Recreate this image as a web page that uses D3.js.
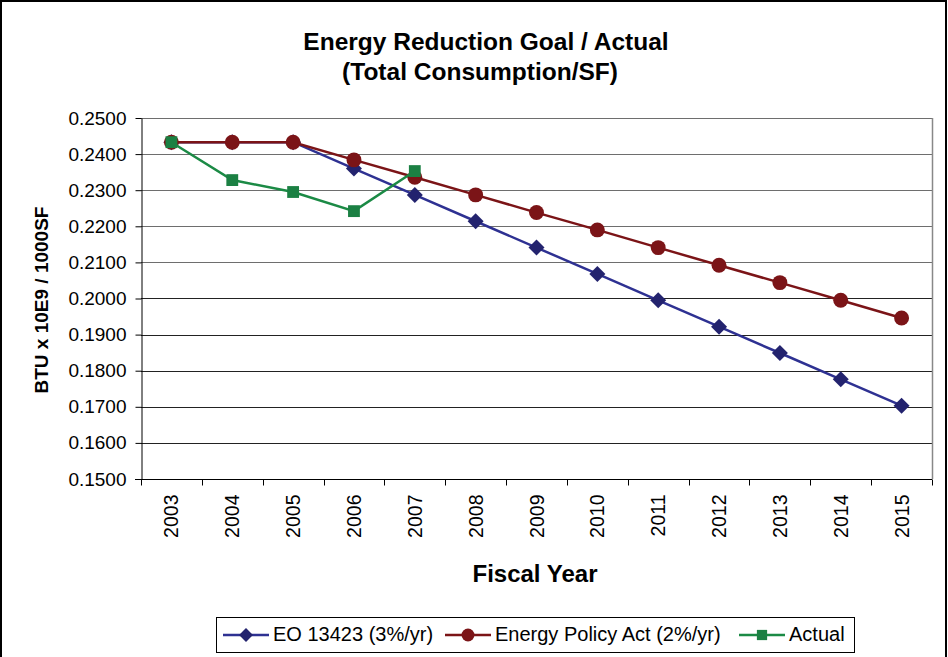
<!DOCTYPE html>
<html>
<head>
<meta charset="utf-8">
<script src="https://cdn.jsdelivr.net/npm/d3@7/dist/d3.min.js"></script>
<style>
  body { margin: 0; background: white; }
  svg { display: block; font-family: "Liberation Sans", Arial, sans-serif; }
</style>
</head>
<body>
<svg id="chart" width="948" height="657"></svg>
<script>
var years = ['2003','2004','2005','2006','2007','2008','2009','2010','2011','2012','2013','2014','2015']
var eoValues = [0.2433,0.2433,0.2433,0.2360,0.2287,0.2214,0.2141,0.2068,0.1995,0.1922,0.1849,0.1776,0.1703]
var epaValues = [0.2433,0.2433,0.2433,0.2384,0.2336,0.2287,0.2238,0.2190,0.2141,0.2092,0.2044,0.1995,0.1946]
var actualYears = ['2003','2004','2005','2006','2007']
var actualValues = [0.2433,0.2328,0.2295,0.2242,0.2353]
var yTicks = [0.15,0.16,0.17,0.18,0.19,0.20,0.21,0.22,0.23,0.24,0.25]
var seriesNames = ['EO 13423 (3%/yr)', 'Energy Policy Act (2%/yr)', 'Actual']

var svg = d3.select('#chart')
var plotL = 141, plotR = 932, plotT = 118, plotB = 479

// outer frame
svg.append('rect').attr('x', 1).attr('y', 1).attr('width', 945).attr('height', 680)
  .style('fill', 'white').style('stroke', 'black').style('stroke-width', 2)

var x = d3.scaleBand().domain(years).range([plotL, plotR])
var y = d3.scaleLinear().domain([0.15, 0.25]).range([plotB, plotT])

// gridlines
svg.append('g').selectAll('line').data(yTicks.slice(1)).enter().append('line')
  .attr('x1', plotL).attr('x2', plotR)
  .attr('y1', function(d){ return Math.round(y(d)) + 0.5 })
  .attr('y2', function(d){ return Math.round(y(d)) + 0.5 })
  .style('stroke', function(d){ return d > 0.205 ? '#6e6e6e' : '#222' })
  .style('stroke-width', 1)

// plot border right
svg.append('line').attr('x1', plotR + 0.5).attr('x2', plotR + 0.5).attr('y1', plotT).attr('y2', plotB)
  .style('stroke', '#888').style('stroke-width', 1.5)

// y axis
var yAxis = svg.append('g').attr('transform', 'translate(' + (plotL + 0.5) + ',0)')
  .call(d3.axisLeft(y).tickValues(yTicks).tickFormat(d3.format('.4f')).tickSize(6).tickSizeOuter(0))
yAxis.attr('font-family', null).attr('font-size', null)
yAxis.select('.domain').style('stroke', 'black')
yAxis.selectAll('line').style('stroke', 'black')
yAxis.selectAll('text').style('font-size', '19px').style('fill', 'black').attr('x', -15)

// x axis, ticks between categories
var xAxis = svg.append('g').attr('transform', 'translate(0,' + (plotB + 0.5) + ')')
xAxis.append('line').attr('x1', plotL - 6).attr('x2', plotR).style('stroke', 'black')
var edges = years.map(function(d){ return x(d) }).concat([plotR])
xAxis.selectAll('.tk').data(edges).enter().append('line')
  .attr('x1', function(d){ return Math.round(d) + 0.5 }).attr('x2', function(d){ return Math.round(d) + 0.5 })
  .attr('y1', 0).attr('y2', 6).style('stroke', 'black')
xAxis.selectAll('.lbl').data(years).enter().append('text')
  .attr('transform', function(d){ return 'translate(' + (x(d) + x.bandwidth() / 2 + 7) + ',15) rotate(-90)' })
  .style('text-anchor', 'end').style('font-size', '19.5px')
  .text(function(d){ return d })

// title
svg.append('text').attr('x', 486).attr('y', 50).style('text-anchor', 'middle')
  .style('font-size', '24.5px').style('font-weight', 'bold').text('Energy Reduction Goal / Actual')
svg.append('text').attr('x', 480).attr('y', 80).style('text-anchor', 'middle')
  .style('font-size', '24.5px').style('font-weight', 'bold').text('(Total Consumption/SF)')

// axis titles
svg.append('text').attr('transform', 'translate(48,300) rotate(-90)').style('text-anchor', 'middle')
  .style('font-size', '19px').style('font-weight', 'bold').text('BTU x 10E9 / 1000SF')
svg.append('text').attr('x', 535).attr('y', 582).style('text-anchor', 'middle')
  .style('font-size', '24px').style('font-weight', 'bold').text('Fiscal Year')

var cx = function(d){ return x(d) + x.bandwidth() / 2 }
var line = d3.line().x(function(d){ return cx(d[0]) }).y(function(d){ return y(d[1]) })

// diamonds are squares turned 45 degrees
var series = [
  { name: seriesNames[0], data: d3.zip(years, eoValues), line: '#2E3192', fill: '#23236E', shape: d3.symbolSquare, size: 128, rot: 45 },
  { name: seriesNames[1], data: d3.zip(years, epaValues), line: '#7B1417', fill: '#7B1417', shape: d3.symbolCircle, size: 175, rot: 0 },
  { name: seriesNames[2], data: d3.zip(actualYears, actualValues), line: '#1B8A45', fill: '#1B8043', shape: d3.symbolSquare, size: 140, rot: 0 }
]

series.forEach(function(s) {
  svg.append('path').datum(s.data).attr('d', line)
    .style('fill', 'none').style('stroke', s.line).style('stroke-width', 2.5)
  svg.append('g').selectAll('path').data(s.data).enter().append('path')
    .attr('d', d3.symbol().type(s.shape).size(s.size))
    .attr('transform', function(d){ return 'translate(' + cx(d[0]) + ',' + y(d[1]) + ') rotate(' + s.rot + ')' })
    .style('fill', s.fill)
})

// legend
var lg = svg.append('g')
lg.append('rect').attr('x', 216.5).attr('y', 617.5).attr('width', 638).attr('height', 35)
  .style('fill', 'white').style('stroke', 'black').style('stroke-width', 1)
var lx = [223, 445, 739]
series.forEach(function(s, i) {
  lg.append('line').attr('x1', lx[i]).attr('x2', lx[i] + 46).attr('y1', 635).attr('y2', 635)
    .style('stroke', s.line).style('stroke-width', 2.5)
  lg.append('path').attr('d', d3.symbol().type(s.shape).size(s.size * 0.75))
    .attr('transform', 'translate(' + (lx[i] + 23) + ',635) rotate(' + s.rot + ')').style('fill', s.fill)
  lg.append('text').attr('x', lx[i] + 50).attr('y', 641).style('font-size', '20px').text(s.name)
})
</script>
</body>
</html>
